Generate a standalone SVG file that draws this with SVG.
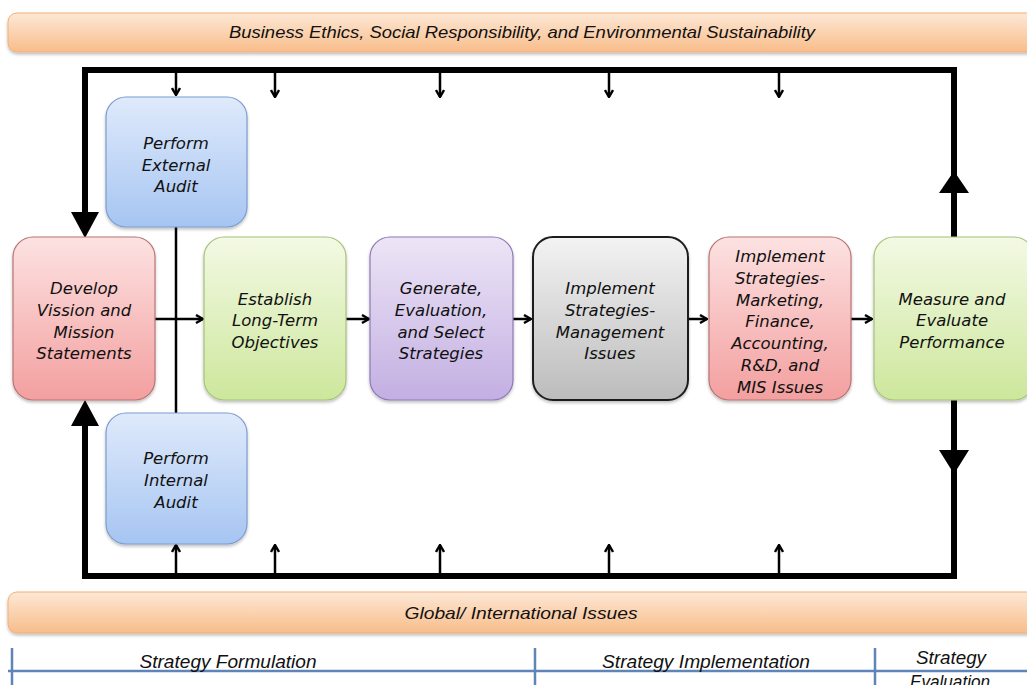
<svg xmlns="http://www.w3.org/2000/svg" width="1027" height="685" viewBox="0 0 1027 685">
  <defs>
    <linearGradient id="gBand" x1="0" y1="0" x2="0" y2="1">
      <stop offset="0" stop-color="#fde8d6"/>
      <stop offset="1" stop-color="#f8bd8a"/>
    </linearGradient>
    <linearGradient id="gBlue" x1="0" y1="0" x2="0" y2="1">
      <stop offset="0" stop-color="#dfeafb"/>
      <stop offset="1" stop-color="#a6c5f2"/>
    </linearGradient>
    <linearGradient id="gRed" x1="0" y1="0" x2="0" y2="1">
      <stop offset="0" stop-color="#fde2e2"/>
      <stop offset="1" stop-color="#f39f9f"/>
    </linearGradient>
    <linearGradient id="gGreen" x1="0" y1="0" x2="0" y2="1">
      <stop offset="0" stop-color="#f3f9e4"/>
      <stop offset="1" stop-color="#cde79c"/>
    </linearGradient>
    <linearGradient id="gPurple" x1="0" y1="0" x2="0" y2="1">
      <stop offset="0" stop-color="#ede5f6"/>
      <stop offset="1" stop-color="#c3afe2"/>
    </linearGradient>
    <linearGradient id="gGray" x1="0" y1="0" x2="0" y2="1">
      <stop offset="0" stop-color="#f3f3f3"/>
      <stop offset="1" stop-color="#bcbcbc"/>
    </linearGradient>
    <filter id="shadow" x="-10%" y="-10%" width="120%" height="130%">
      <feDropShadow dx="0" dy="2" stdDeviation="1.5" flood-color="#000" flood-opacity="0.25"/>
    </filter>
    <marker id="chev" viewBox="0 0 10 10" refX="9" refY="5" markerWidth="10" markerHeight="10" markerUnits="userSpaceOnUse" orient="auto">
      <path d="M2,1 L9,5 L2,9" fill="none" stroke="#000" stroke-width="2.4"/>
    </marker>
  </defs>
  <style>
    .band { fill: url(#gBand); stroke: #f0b07a; stroke-width: 1; filter: url(#shadow); }
    .bandTxt { font-family: "Liberation Sans Narrow", "Liberation Sans", Arial, sans-serif; font-style: italic; font-size: 17px; fill: #111; text-anchor: middle; }
    .tblTxt { font-family: "Liberation Sans Narrow", "Liberation Sans", Arial, sans-serif; font-style: italic; font-size: 18px; fill: #111; text-anchor: middle; }
    .box { stroke-width: 1.2; filter: url(#shadow); }
    .blue { fill: url(#gBlue); stroke: #7b9dcf; }
    .red { fill: url(#gRed); stroke: #b87474; }
    .green { fill: url(#gGreen); stroke: #a6c27a; }
    .purple { fill: url(#gPurple); stroke: #8d78b6; }
    .gray { fill: url(#gGray); stroke: #1e1e1e; stroke-width: 2; }
    .lbl { font-family: "DejaVu Sans", Verdana, sans-serif; font-style: italic; font-size: 16.5px; fill: #111; text-anchor: middle; }
    .frame { fill: none; stroke: #000; stroke-width: 6; stroke-linejoin: miter; stroke-linecap: square; }
    .thin { fill: none; stroke: #000; stroke-width: 2.5; }
    .head { fill: #000; }
    .tbl { stroke: #5f84b8; stroke-width: 2.5; fill: none; }
  </style>

  <!-- top context band -->
  <g id="band-ethics">
    <rect class="band" x="8" y="13" width="1030" height="39" rx="9"/>
    <text class="bandTxt" x="522" y="38" textLength="586" lengthAdjust="spacingAndGlyphs">Business Ethics, Social Responsibility, and Environmental Sustainability</text>
  </g>

  <!-- connectors -->
  <g id="connectors">
    <!-- outer feedback loop -->
    <path class="frame" d="M85,214 V70 H954 V237"/>
    <path class="frame" d="M85,424 V576 H954 V400"/>
    <polygon class="head" points="71,212 99,212 85,238"/>
    <polygon class="head" points="71,426 99,426 85,400"/>
    <polygon class="head" points="939,193 969,193 954,171"/>
    <polygon class="head" points="939,450 969,450 954,474"/>
    <!-- influence arrows from the top edge -->
    <line class="thin" x1="176" y1="72" x2="176" y2="95" marker-end="url(#chev)"/>
    <line class="thin" x1="275" y1="72" x2="275" y2="97" marker-end="url(#chev)"/>
    <line class="thin" x1="440" y1="72" x2="440" y2="97" marker-end="url(#chev)"/>
    <line class="thin" x1="609" y1="72" x2="609" y2="97" marker-end="url(#chev)"/>
    <line class="thin" x1="779" y1="72" x2="779" y2="97" marker-end="url(#chev)"/>
    <!-- influence arrows from the bottom edge -->
    <line class="thin" x1="176" y1="574" x2="176" y2="545" marker-end="url(#chev)"/>
    <line class="thin" x1="275" y1="574" x2="275" y2="545" marker-end="url(#chev)"/>
    <line class="thin" x1="440" y1="574" x2="440" y2="545" marker-end="url(#chev)"/>
    <line class="thin" x1="609" y1="574" x2="609" y2="545" marker-end="url(#chev)"/>
    <line class="thin" x1="779" y1="574" x2="779" y2="545" marker-end="url(#chev)"/>
    <!-- audit link -->
    <line class="thin" x1="176" y1="227" x2="176" y2="413"/>
    <!-- main process flow -->
    <line class="thin" x1="155" y1="319" x2="203" y2="319" marker-end="url(#chev)"/>
    <line class="thin" x1="346" y1="319" x2="369" y2="319" marker-end="url(#chev)"/>
    <line class="thin" x1="513" y1="319" x2="531" y2="319" marker-end="url(#chev)"/>
    <line class="thin" x1="688" y1="319" x2="707" y2="319" marker-end="url(#chev)"/>
    <line class="thin" x1="851" y1="319" x2="872" y2="319" marker-end="url(#chev)"/>
  </g>

  <!-- process nodes -->
  <g id="external-audit">
    <rect class="box blue" x="106" y="97" width="141" height="130" rx="20"/>
    <text class="lbl" x="176" y="149">Perform</text>
    <text class="lbl" x="176" y="171">External</text>
    <text class="lbl" x="176" y="192">Audit</text>
  </g>
  <g id="internal-audit">
    <rect class="box blue" x="106" y="413" width="141" height="131" rx="20"/>
    <text class="lbl" x="176" y="464">Perform</text>
    <text class="lbl" x="176" y="486">Internal</text>
    <text class="lbl" x="176" y="508">Audit</text>
  </g>
  <g id="vision-mission">
    <rect class="box red" x="13" y="237" width="142" height="163" rx="20"/>
    <text class="lbl" x="84" y="294">Develop</text>
    <text class="lbl" x="84" y="316">Vission and</text>
    <text class="lbl" x="84" y="338">Mission</text>
    <text class="lbl" x="84" y="359">Statements</text>
  </g>
  <g id="objectives">
    <rect class="box green" x="204" y="237" width="142" height="163" rx="20"/>
    <text class="lbl" x="275" y="305">Establish</text>
    <text class="lbl" x="275" y="326">Long-Term</text>
    <text class="lbl" x="275" y="348">Objectives</text>
  </g>
  <g id="strategies">
    <rect class="box purple" x="370" y="237" width="143" height="163" rx="20"/>
    <text class="lbl" x="441" y="294">Generate,</text>
    <text class="lbl" x="441" y="316">Evaluation,</text>
    <text class="lbl" x="441" y="338">and Select</text>
    <text class="lbl" x="441" y="359">Strategies</text>
  </g>
  <g id="management-issues">
    <rect class="box gray" x="533" y="237" width="155" height="163" rx="20"/>
    <text class="lbl" x="610" y="294">Implement</text>
    <text class="lbl" x="610" y="316">Strategies-</text>
    <text class="lbl" x="610" y="338">Management</text>
    <text class="lbl" x="610" y="359">Issues</text>
  </g>
  <g id="functional-issues">
    <rect class="box red" x="709" y="237" width="142" height="163" rx="20"/>
    <text class="lbl" x="780" y="262">Implement</text>
    <text class="lbl" x="780" y="284">Strategies-</text>
    <text class="lbl" x="780" y="306">Marketing,</text>
    <text class="lbl" x="780" y="327">Finance,</text>
    <text class="lbl" x="780" y="349">Accounting,</text>
    <text class="lbl" x="780" y="371">R&amp;D, and</text>
    <text class="lbl" x="780" y="393">MIS Issues</text>
  </g>
  <g id="performance">
    <rect class="box green" x="874" y="237" width="160" height="163" rx="20"/>
    <text class="lbl" x="952" y="305">Measure and</text>
    <text class="lbl" x="952" y="326">Evaluate</text>
    <text class="lbl" x="952" y="348">Performance</text>
  </g>

  <!-- bottom context band -->
  <g id="band-global">
    <rect class="band" x="8" y="592" width="1030" height="41" rx="9"/>
    <text class="bandTxt" x="521" y="619" textLength="233" lengthAdjust="spacingAndGlyphs">Global/ International Issues</text>
  </g>

  <!-- stage table -->
  <g id="stages">
    <line class="tbl" x1="8" y1="671" x2="1027" y2="671"/>
    <line class="tbl" x1="12" y1="648" x2="12" y2="685"/>
    <line class="tbl" x1="535" y1="648" x2="535" y2="685"/>
    <line class="tbl" x1="875" y1="648" x2="875" y2="685"/>
    <text class="tblTxt" x="228" y="668" textLength="177" lengthAdjust="spacingAndGlyphs">Strategy Formulation</text>
    <text class="tblTxt" x="706" y="668" textLength="208" lengthAdjust="spacingAndGlyphs">Strategy Implementation</text>
    <text class="tblTxt" x="951" y="664" textLength="70" lengthAdjust="spacingAndGlyphs">Strategy</text>
    <text class="tblTxt" x="950" y="688" textLength="80" lengthAdjust="spacingAndGlyphs">Evaluation</text>
  </g>
</svg>
